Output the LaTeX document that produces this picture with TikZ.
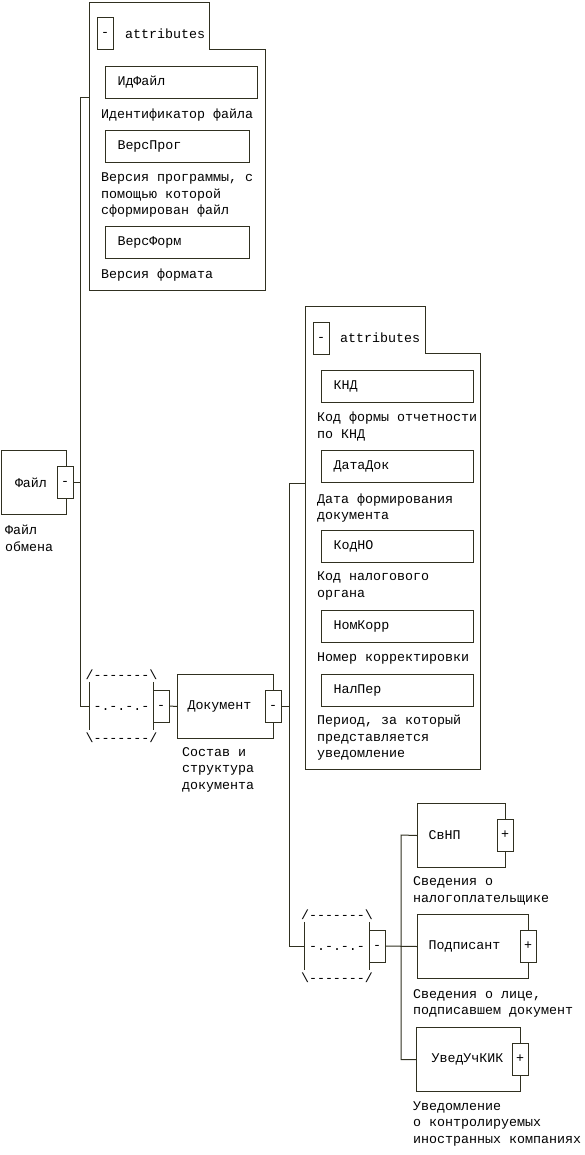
\documentclass[tikz,border=0pt]{standalone}
\usepackage{fontspec}
\usepackage{tikz}
\newfontfamily\xsdmono{Liberation Mono}
\newcommand{\xsdfont}{\xsdmono\fontsize{13.33}{16.5}\selectfont}
\definecolor{xsdline}{RGB}{48,48,32}

\begin{document}
\begin{tikzpicture}
  [x=1pt, y=-1pt, every node/.style={font=\xsdfont},
   wire/.style={draw=xsdline, line width=1pt},
   elem/.style={wire, fill=white, anchor=north west, align=left, minimum height=64pt, inner ysep=0pt},
   attr/.style={wire, anchor=north west, align=left, minimum height=32pt, inner xsep=12pt, inner ysep=0pt},
   tog/.style={wire, fill=white, minimum width=16pt, minimum height=32pt, inner sep=0pt, text height=0.6em, text depth=0pt},
   seqbox/.style={minimum width=63pt, minimum height=48pt, inner sep=0pt},
   seqtxt/.style={anchor=base, inner sep=0pt},
   desc/.style={anchor=west, align=left, inner sep=0pt}]
  \useasboundingbox (0,0) rectangle (584,1155);

  \draw[wire] (89,291) -- (89,3) -- (209,3) -- (209,50) -- (265,50) -- (265,291) -- cycle;
  \node[tog] (a1m) at (105,34) {-};
  \node[anchor=west, inner sep=0pt] (a1t) at (125,34) {attributes};
  \coordinate (grp1) at (89,98);
  \node[attr, text width=128pt] (idfajl) at (105,66) {ИдФайл};
  \node[desc] (idfajld) at (101,115) {Идентификатор файла};
  \node[attr, text width=120pt] (versprog) at (105,130) {ВерсПрог};
  \node[desc] (versprogd) at (101,195) {Версия программы, с\\помощью которой\\сформирован файл};
  \node[attr, text width=120pt] (versform) at (105,226) {ВерсФорм};
  \node[desc] (versformd) at (101,275) {Версия формата};

  \node[elem, text width=37pt, inner xsep=14pt] (fajl) at (0.5,450) {Файл};
  \node[tog] (fm) at (65,482) {-};
  \node[desc] (fajld) at (5,538.5) {Файл\\обмена};

  \node[seqbox] (sq1) at (121.5,706) {};
  \draw[wire] (sq1.north west) -- (sq1.south west);
  \draw[wire] (sq1.north east) -- (sq1.south east);
  \node[seqtxt] (sq1top) at (121.5,679) {/-------\textbackslash};
  \node[seqtxt] (sq1mid) at (121.5,710) {-.-.-.-};
  \node[seqtxt] (sq1bot) at (121.5,742) {\textbackslash-------/};
  \node[tog] (s1m) at (161,706) {-};

  \node[elem, text width=76pt, inner xsep=10pt] (doc) at (177,674) {Документ};
  \node[tog] (dm) at (273,706) {-};
  \node[desc] (docd) at (182,769.5) {Состав и\\структура\\документа};

  \draw[wire] (305,769) -- (305,306) -- (425,306) -- (425,353) -- (480,353) -- (480,769) -- cycle;
  \node[tog] (a2m) at (321,338) {-};
  \node[anchor=west, inner sep=0pt] (a2t) at (340,338) {attributes};
  \coordinate (grp2) at (305,483);
  \node[attr, text width=128pt] (knd) at (321,370) {КНД};
  \node[desc] (kndd) at (317,426.5) {Код формы отчетности\\по КНД};
  \node[attr, text width=128pt] (datadok) at (321,450) {ДатаДок};
  \node[desc] (datadokd) at (317,508) {Дата формирования\\документа};
  \node[attr, text width=128pt] (kodno) at (321,530) {КодНО};
  \node[desc] (kodnod) at (317,586) {Код налогового\\органа};
  \node[attr, text width=128pt] (nomkorr) at (321,610) {НомКорр};
  \node[desc] (nomkorrd) at (317,658) {Номер корректировки};
  \node[attr, text width=128pt] (nalper) at (321,674) {НалПер};
  \node[desc] (nalperd) at (317,738) {Период, за который\\представляется\\уведомление};

  \node[seqbox, minimum width=64pt] (sq2) at (337,946) {};
  \draw[wire] (sq2.north west) -- (sq2.south west);
  \draw[wire] (sq2.north east) -- (sq2.south east);
  \node[seqtxt] (sq2top) at (337,919) {/-------\textbackslash};
  \node[seqtxt] (sq2mid) at (337,950) {-.-.-.-};
  \node[seqtxt] (sq2bot) at (337,982) {\textbackslash-------/};
  \node[tog] (s2m) at (377,946) {-};

  \node[elem, text width=66pt, inner xsep=11pt] (svnp) at (417,803) {СвНП};
  \node[tog] (svnpp) at (505,835) {+};
  \node[desc] (svnpd) at (413,891) {Сведения о\\налогоплательщике};
  \node[elem, text width=89pt, inner xsep=11pt] (podp) at (417,914) {Подписант};
  \node[tog] (podpp) at (528,946) {+};
  \node[desc] (podpd) at (413,1003.5) {Сведения о лице,\\подписавшем документ};
  \node[elem, text width=74pt, inner xsep=15pt] (uved) at (416,1027) {УведУчКИК};
  \node[tog] (uvedp) at (520,1059) {+};
  \node[desc] (uvedd) at (413,1123.5) {Уведомление\\о контролируемых\\иностранных компаниях};

  \coordinate (ta) at (80,98);
  \coordinate (tb) at (289,483);
  \coordinate (tc) at (401,835);
  \draw[wire] (grp1) -- (ta) |- (sq1.west);
  \draw[wire] (fm.east) -- (fm.east -| ta);
  \draw[wire] (s1m.east) -- (doc.west);
  \draw[wire] (grp2) -- (tb) |- (sq2.west);
  \draw[wire] (dm.east) -- (dm.east -| tb);
  \draw[wire] (s2m.east) -- (podp.west);
  \draw[wire] (svnp.west) -- (tc) |- (uved.west);
\end{tikzpicture}
\end{document}
